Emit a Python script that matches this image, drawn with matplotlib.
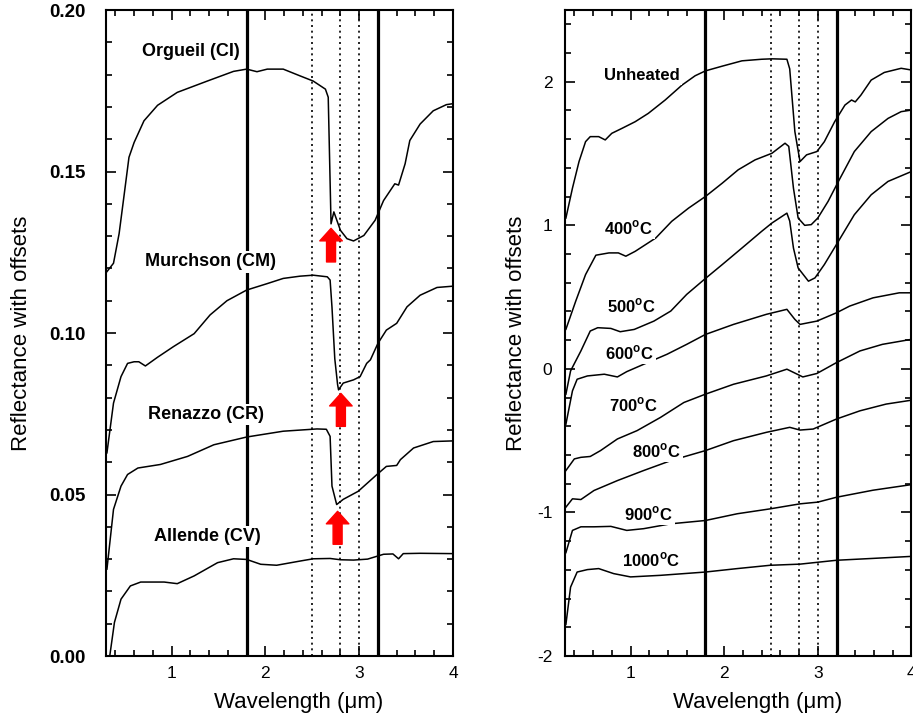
import matplotlib
matplotlib.use('Agg')
import matplotlib.pyplot as plt

plt.rcParams['font.family'] = ['Liberation Sans', 'DejaVu Sans']
plt.rcParams['mathtext.fontset'] = 'custom'
plt.rcParams['mathtext.rm'] = 'Liberation Sans'
plt.rcParams['mathtext.bf'] = 'Liberation Sans:bold'
plt.rcParams['axes.unicode_minus'] = False

# ---- left panel: carbonaceous chondrites ----
orgueil_wl = [0.31, 0.38, 0.44, 0.49, 0.545, 0.60, 0.705, 0.85, 1.06, 1.38, 1.66, 1.80, 1.91, 2.02,
              2.19, 2.37, 2.51, 2.64, 2.67, 2.70, 2.73, 2.80, 2.87, 2.94, 3.05, 3.17, 3.26, 3.38,
              3.42, 3.49, 3.54, 3.65, 3.79, 3.93, 4.0]
orgueil_r = [0.119, 0.1216, 0.1308, 0.142, 0.1544, 0.159, 0.1657, 0.1705, 0.1745, 0.178, 0.181,
             0.1817, 0.1809, 0.1817, 0.1817, 0.1796, 0.178, 0.1755, 0.173, 0.1338, 0.1375, 0.1318,
             0.1292, 0.1285, 0.1302, 0.1349, 0.141, 0.1462, 0.1458, 0.1524, 0.1596, 0.1647, 0.1688,
             0.1707, 0.171]

murchison_wl = [0.31, 0.38, 0.46, 0.53, 0.60, 0.65, 0.72, 0.85, 1.02, 1.24, 1.41, 1.59, 1.80, 2.02,
                2.19, 2.37, 2.51, 2.66, 2.69, 2.71, 2.74, 2.77, 2.78, 2.83, 2.94, 3.01, 3.08, 3.12,
                3.20, 3.29, 3.40, 3.51, 3.65, 3.83, 4.0]
murchison_r = [0.0629, 0.0783, 0.0865, 0.0906, 0.0911, 0.0911, 0.0898, 0.0925, 0.0958, 0.0998,
               0.1056, 0.110, 0.1133, 0.1153, 0.1169, 0.1176, 0.1179, 0.1174, 0.1164, 0.108, 0.092,
               0.084, 0.0824, 0.0845, 0.0855, 0.0865, 0.0906, 0.0917, 0.0968, 0.1009, 0.103, 0.1081,
               0.1117, 0.1141, 0.1145]

renazzo_wl = [0.31, 0.38, 0.46, 0.53, 0.64, 0.88, 1.17, 1.45, 1.80, 2.19, 2.55, 2.65, 2.69, 2.71,
              2.76, 2.83, 2.99, 3.19, 3.29, 3.40, 3.44, 3.58, 3.79, 4.0]
renazzo_r = [0.0269, 0.0454, 0.0526, 0.0562, 0.0582, 0.0593, 0.0618, 0.0654, 0.0678, 0.0696, 0.0703,
             0.0702, 0.068, 0.0526, 0.0469, 0.0485, 0.051, 0.0562, 0.0587, 0.059, 0.0608, 0.0644,
             0.0664, 0.0666]

allende_wl = [0.34, 0.39, 0.46, 0.56, 0.67, 0.92, 1.06, 1.24, 1.49, 1.66, 1.80, 1.95, 2.12, 2.37,
              2.51, 2.69, 2.80, 2.94, 3.09, 3.26, 3.36, 3.42, 3.47, 3.65, 4.0]
allende_r = [0.0, 0.0104, 0.0176, 0.0217, 0.0229, 0.0229, 0.0224, 0.0248, 0.0289, 0.0301, 0.0299,
             0.0284, 0.0281, 0.0294, 0.0301, 0.0302, 0.0298, 0.0297, 0.0300, 0.0315, 0.0316, 0.0301,
             0.0317, 0.0318, 0.0317]

left_names = ['Orgueil (CI)', 'Murchson (CM)', 'Renazzo (CR)', 'Allende (CV)']
left_label_xy = [(1.21, 0.1873), (1.415, 0.122), (1.37, 0.0747), (1.38, 0.0371)]
# red arrows: (wavelength, tail, tip)
arrows = [(2.70, 0.122, 0.1324), (2.805, 0.0711, 0.0813), (2.77, 0.0346, 0.0448)]

# ---- right panel: heated Murchison ----
unheated_wl = [0.31, 0.38, 0.45, 0.52, 0.57, 0.66, 0.73, 0.80, 0.91, 1.05, 1.19, 1.37, 1.55, 1.69,
               1.80, 1.98, 2.19, 2.40, 2.51, 2.67, 2.70, 2.755, 2.81, 2.88, 2.99, 3.07, 3.18, 3.29,
               3.36, 3.40, 3.46, 3.57, 3.71, 3.89, 4.0]
unheated_r = [1.051, 1.259, 1.444, 1.583, 1.618, 1.618, 1.595, 1.641, 1.676, 1.722, 1.78, 1.873,
              1.977, 2.042, 2.076, 2.109, 2.146, 2.157, 2.16, 2.157, 2.09, 1.653, 1.444, 1.491, 1.514,
              1.583, 1.722, 1.838, 1.873, 1.86, 1.907, 2.012, 2.065, 2.094, 2.082]

h400_wl = [0.31, 0.415, 0.52, 0.63, 0.77, 0.87, 0.95, 1.05, 1.27, 1.44, 1.62, 1.80, 1.98, 2.15, 2.33,
           2.51, 2.65, 2.69, 2.74, 2.79, 2.86, 2.93, 3.00, 3.11, 3.22, 3.39, 3.57, 3.75, 3.89, 4.0]
h400_r = [0.276, 0.472, 0.657, 0.792, 0.808, 0.808, 0.785, 0.819, 0.912, 1.028, 1.12, 1.201, 1.294,
          1.387, 1.456, 1.502, 1.572, 1.55, 1.259, 1.051, 1.0, 1.005, 1.051, 1.167, 1.306, 1.514,
          1.653, 1.745, 1.792, 1.803]

h500_wl = [0.31, 0.36, 0.47, 0.57, 0.65, 0.79, 0.89, 1.04, 1.25, 1.43, 1.60, 1.80, 1.98, 2.19, 2.40,
           2.51, 2.67, 2.70, 2.74, 2.79, 2.90, 2.97, 3.07, 3.22, 3.39, 3.57, 3.75, 4.0]
h500_r = [-0.176, -0.014, 0.125, 0.264, 0.287, 0.282, 0.259, 0.275, 0.333, 0.403, 0.519, 0.63, 0.727,
          0.842, 0.958, 1.016, 1.085, 1.03, 0.842, 0.703, 0.611, 0.634, 0.727, 0.889, 1.074, 1.213,
          1.306, 1.375]

h600_wl = [0.31, 0.38, 0.43, 0.54, 0.72, 0.86, 0.96, 1.14, 1.39, 1.60, 1.80, 2.10, 2.45, 2.67, 2.755,
           2.81, 2.99, 3.20, 3.34, 3.59, 3.87, 4.0]
h600_r = [-0.385, -0.153, -0.072, -0.049, -0.037, -0.056, -0.019, 0.032, 0.102, 0.171, 0.24, 0.31,
          0.38, 0.415, 0.345, 0.31, 0.333, 0.391, 0.4375, 0.495, 0.53, 0.53]

h700_wl = [0.31, 0.40, 0.47, 0.57, 0.68, 0.86, 1.07, 1.32, 1.57, 1.80, 2.10, 2.45, 2.67, 2.84, 2.99,
           3.20, 3.45, 3.69, 4.0]
h700_r = [-0.708, -0.627, -0.616, -0.61, -0.569, -0.488, -0.43, -0.338, -0.234, -0.176, -0.107,
          -0.049, -0.002, -0.056, -0.032, 0.044, 0.125, 0.171, 0.206]

h800_wl = [0.31, 0.38, 0.47, 0.61, 0.86, 1.14, 1.43, 1.80, 2.10, 2.45, 2.70, 2.81, 2.95, 3.20, 3.45,
           3.73, 4.0]
h800_r = [-0.963, -0.905, -0.91, -0.847, -0.778, -0.708, -0.639, -0.569, -0.5, -0.442, -0.407,
          -0.426, -0.419, -0.349, -0.292, -0.245, -0.218]

h900_wl = [0.31, 0.38, 0.47, 0.61, 0.79, 0.96, 1.14, 1.43, 1.80, 2.14, 2.49, 2.81, 3.0, 3.2, 3.59, 4.0]
h900_r = [-1.28, -1.125, -1.10, -1.10, -1.097, -1.125, -1.113, -1.079, -1.056, -1.009, -0.975,
          -0.94, -0.928, -0.894, -0.845, -0.806]

h1000_wl = [0.31, 0.36, 0.43, 0.54, 0.66, 0.82, 1.0, 1.32, 1.80, 2.14, 2.49, 2.81, 3.2, 3.59, 4.0]
h1000_r = [-1.78, -1.52, -1.415, -1.398, -1.391, -1.426, -1.449, -1.438, -1.415, -1.391, -1.368,
           -1.36, -1.333, -1.32, -1.306]

right_names = ['Unheated', '400$^{\\mathbf{o}}$C', '500$^{\\mathbf{o}}$C', '600$^{\\mathbf{o}}$C',
               '700$^{\\mathbf{o}}$C', '800$^{\\mathbf{o}}$C', '900$^{\\mathbf{o}}$C',
               '1000$^{\\mathbf{o}}$C']
right_label_xy = [(1.12, 2.046), (0.98, 0.981), (1.01, 0.4375), (0.99, 0.113), (1.03, -0.25),
                  (1.28, -0.569), (1.19, -1.009), (1.22, -1.333)]

solid_lines = [1.8, 3.2]
dotted_lines = [2.5, 2.8, 3.0]


def style_axes(ax):
    for sp in ax.spines.values():
        sp.set_linewidth(1.5)
    ax.tick_params(which='both', direction='in', top=True, right=True, width=1.2)
    ax.tick_params(which='major', length=7, labelsize=12.5)
    ax.tick_params(axis='x', which='major', pad=7)
    ax.tick_params(which='minor', length=4)
    ax.set_xlim(0.3, 4.0)
    ax.set_xticks([1, 2, 3, 4])
    ax.set_xticks([x / 10 for x in range(4, 40, 2)], minor=True)
    ax.set_xlabel('Wavelength (\u03bcm)', fontsize=16)
    ax.xaxis.set_label_coords(0.556, -0.056)
    ax.set_ylabel('Reflectance with offsets', fontsize=16)
    for x in solid_lines:
        ax.axvline(x, color='black', lw=2.3, zorder=1)
    for x in dotted_lines:
        ax.axvline(x, color='black', lw=1.2, ls=(0, (1.2, 2.2)), zorder=1)


fig = plt.figure(figsize=(9.13, 7.15), dpi=100)
ax1 = fig.add_axes([0.1161, 0.0825, 0.380, 0.9035])
ax2 = fig.add_axes([0.6188, 0.0825, 0.3795, 0.9035])

# left
style_axes(ax1)
ax1.set_ylim(0, 0.20)
ax1.set_yticks([0.0, 0.05, 0.10, 0.15, 0.20])
ax1.set_yticklabels(['0.00', '0.05', '0.10', '0.15', '0.20'], fontweight='bold', fontsize=13.5)
ax1.set_yticks([i / 100 for i in range(0, 21)], minor=True)
ax1.tick_params(axis='y', which='major', pad=15)
ax1.yaxis.set_label_coords(-0.213, 0.5)

for wl, r in [(orgueil_wl, orgueil_r), (murchison_wl, murchison_r),
              (renazzo_wl, renazzo_r), (allende_wl, allende_r)]:
    ax1.plot(wl, r, color='black', lw=1.1, zorder=2)

for name, (x, y) in zip(left_names, left_label_xy):
    ax1.text(x, y, name, fontsize=13, fontweight='bold', ha='center', va='center', zorder=3,
             bbox=dict(facecolor='white', edgecolor='none', pad=1.5))

for x, tail, tip in arrows:
    ax1.annotate('', xy=(x, tip), xytext=(x, tail), zorder=4,
                 arrowprops=dict(arrowstyle='simple,head_length=0.5,head_width=0.9,tail_width=0.36',
                                 mutation_scale=18, color='red', shrinkA=0, shrinkB=0))

# right
style_axes(ax2)
ax2.set_ylim(-2, 2.5)
ax2.set_yticks([-2, -1, 0, 1, 2])
ax2.set_yticks([i / 10 for i in range(-20, 25, 2)], minor=True)
ax2.tick_params(axis='y', which='major', pad=9)
ax2.yaxis.set_label_coords(-0.11, 0.5)

for wl, r in [(unheated_wl, unheated_r), (h400_wl, h400_r), (h500_wl, h500_r), (h600_wl, h600_r),
              (h700_wl, h700_r), (h800_wl, h800_r), (h900_wl, h900_r), (h1000_wl, h1000_r)]:
    ax2.plot(wl, r, color='black', lw=1.1, zorder=2)

for name, (x, y) in zip(right_names, right_label_xy):
    ax2.text(x, y, name, fontsize=12, fontweight='bold', ha='center', va='center', zorder=3,
             bbox=dict(facecolor='white', edgecolor='none', pad=1.5))

fig.savefig('out.png', dpi=100)
